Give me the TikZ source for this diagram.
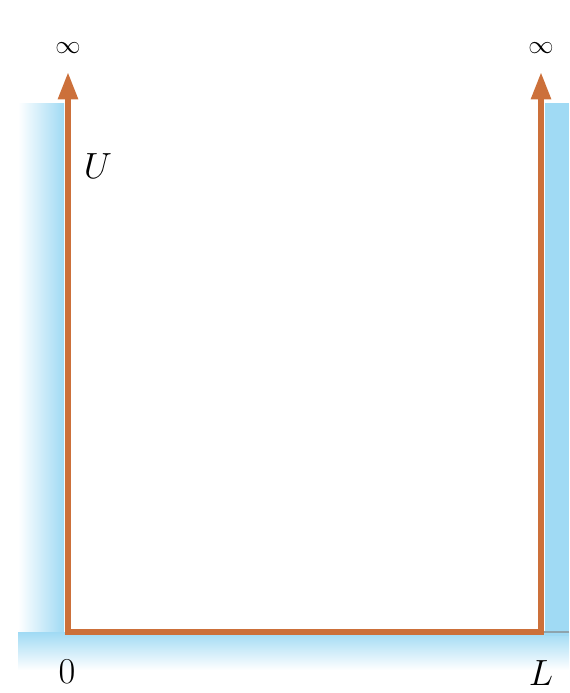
\documentclass[tikz,border=0pt]{standalone}
\usepackage{amsmath,amssymb}
\usepackage{xcolor}
\usepackage{tikz}
\usetikzlibrary{arrows.meta,positioning,calc}

\definecolor{wallorange}{RGB}{204,112,58}
\definecolor{wallblue}{RGB}{160,218,244}

\begin{document}
\begin{tikzpicture}[
    x=0.02cm, y=-0.02cm,
    wall/.style={draw=none},
    arr/.style={-{Triangle[length=0.55cm, width=0.38cm]}, line width=3.4pt, draw=wallorange},
    lbl/.style={font=\fontsize{20}{24}\selectfont, inner sep=0pt},
    inf/.style={font=\fontsize{15}{18}\selectfont, inner sep=0pt}
]
\useasboundingbox (0,0) rectangle (569,693);

% potential walls
\shade[wall, left color=white, right color=wallblue] (18,103) rectangle (64,636);
\shade[wall, top color=wallblue, bottom color=white] (18,632) rectangle (569,670);
\fill[wallblue] (545,103) rectangle (569,636);
\draw[wallblue!40!gray, line width=1pt] (541,632) -- (569,632);

% corners
\coordinate (o) at (68,632);
\coordinate (l) at (541,632);
\coordinate (ot) at (68,72);
\coordinate (lt) at (541,72);

% well
\draw[arr] (o) -- (ot);
\draw[arr] (l) -- (lt);
\draw[line width=3.4pt, draw=wallorange, line cap=rect] (o) -- (l);

% labels
\node[inf] (infl) at (68,48) {$\infty$};
\node[inf] (infr) at (541,48) {$\infty$};
\node[lbl] (u) at (98,166) {$U$};
\node[lbl] (zero) at (67,672) {$0$};
\node[lbl] (len) at (541,673) {$L$};
\end{tikzpicture}
\end{document}
